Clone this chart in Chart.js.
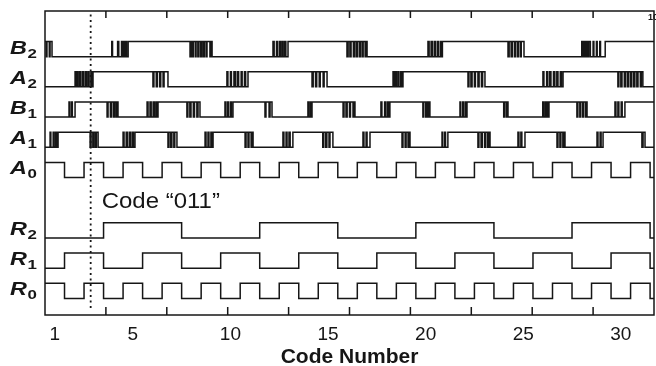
<!DOCTYPE html>
<html lang="en">
<head>
<meta charset="UTF-8">
<title>Code Number</title>
<script src="https://cdn.jsdelivr.net/npm/chart.js@4"></script>
<style>
  html, body { margin: 0; padding: 0; background: #fff; }
</style>
</head>
<body>
<canvas id="timing" width="656" height="366"></canvas>
<script>
// code numbers on the x axis, one entry per code
var codes = [1,2,3,4,5,6,7,8,9,10,11,12,13,14,15,16,17,18,19,20,21,22,23,24,25,26,27,28,29,30,31,32];
var codeTicks = [1, 5, 10, 15, 20, 25, 30];
var codeTickLabels = ['1', '5', '10', '15', '20', '25', '30'];
var markerCode = 2.84;          // dotted line, code "011"
var markerLabel = 'Code \u201C011\u201D';

// clean outputs, level per code
var A0bits = [1,0,1,0,1,0,1,0,1,0,1,0,1,0,1,0,1,0,1,0,1,0,1,0,1,0,1,0,1,0,1,0];
var R0bits = [1,0,1,0,1,0,1,0,1,0,1,0,1,0,1,0,1,0,1,0,1,0,1,0,1,0,1,0,1,0,1,0];
var R1bits = [0,1,1,0,0,1,1,0,0,1,1,0,0,1,1,0,0,1,1,0,0,1,1,0,0,1,1,0,0,1,1,0];
var R2bits = [0,0,0,1,1,1,1,0,0,0,0,1,1,1,1,0,0,0,0,1,1,1,1,0,0,0,0,1,1,1,1,0];

// noisy comparator outputs: starting level and every toggle (in code units)
var B2start = 1;
var B2edges = [0.56,0.60,0.72,0.76,0.86,
  3.92,3.96,4.22,4.28,4.42,4.46,4.50,4.56,4.63,4.68,4.76,
  7.93,7.98,8.05,8.10,8.20,8.24,8.33,8.38,8.47,8.52,8.60,8.66,8.75,8.80,8.95,8.99,9.06,
  12.18,12.24,12.36,12.42,12.52,12.58,12.66,12.70,12.78,12.84,12.95,
  15.97,16.03,16.12,16.18,16.30,16.36,16.45,16.50,16.60,16.66,16.75,16.80,16.90,16.95,17.00,
  20.12,20.18,20.28,20.34,20.44,20.50,20.60,20.66,20.76,20.80,20.86,
  24.22,24.28,24.38,24.44,24.55,24.60,24.70,24.75,24.85,24.90,25.04,
  28.00,28.06,28.12,28.18,28.25,28.30,28.36,28.44,28.58,28.62,28.75,28.79,28.92,28.96,29.20];

var A2start = 0;
var A2edges = [2.04,2.09,2.15,2.20,2.28,2.33,2.42,2.47,2.56,2.62,2.70,2.76,2.85,2.90,2.96,
  6.03,6.08,6.20,6.26,6.38,6.43,6.55,6.60,6.80,
  9.82,9.87,10.00,10.05,10.18,10.25,10.35,10.42,10.55,10.60,10.72,10.78,10.90,
  14.18,14.24,14.36,14.42,14.55,14.60,14.75,14.80,14.95,
  18.33,18.38,18.45,18.50,18.58,18.63,18.72,18.77,18.84,
  22.17,22.22,22.32,22.38,22.50,22.55,22.68,22.74,22.86,22.92,23.04,
  26.01,26.06,26.20,26.26,26.36,26.42,26.55,26.62,26.72,26.78,26.90,26.96,27.04,
  29.85,29.90,30.00,30.06,30.18,30.24,30.34,30.40,30.50,30.56,30.66,30.72,30.82,30.88,31.00,31.05,31.13];

var B1start = 0;
var B1edges = [1.73,1.77,1.86,1.90,2.04,
  3.68,3.73,3.85,3.90,4.00,4.06,4.14,4.18,4.24,
  5.73,5.78,5.88,5.94,6.04,6.10,6.18,6.23,6.29,
  7.77,7.82,7.92,7.98,8.10,8.16,8.28,8.34,8.44,
  9.72,9.77,9.86,9.90,10.00,10.05,10.13,
  11.77,11.82,11.98,12.03,12.13,
  13.97,14.02,14.10,14.14,14.18,
  15.77,15.82,15.92,15.98,16.10,16.15,16.28,16.33,16.38,
  17.71,17.76,17.90,17.96,18.05,18.10,18.17,
  19.86,19.90,20.00,20.05,20.12,20.17,20.22,
  21.76,21.80,21.90,21.95,22.04,22.08,22.12,
  24.00,24.05,24.14,24.18,24.22,
  26.00,26.04,26.12,26.16,26.22,26.27,26.32,
  27.75,27.80,27.90,27.95,28.05,28.10,28.20,28.24,28.27,
  29.70,29.75,29.85,29.90,30.02,30.07,30.21];

var A1start = 0;
var A1edges = [0.76,0.80,0.92,0.97,1.05,1.10,1.17,
  2.81,2.86,2.95,3.00,3.08,3.13,3.22,
  4.50,4.55,4.66,4.72,4.82,4.88,4.97,5.03,5.11,
  6.80,6.85,6.94,7.00,7.10,7.15,7.26,
  8.70,8.75,8.85,8.90,9.00,9.05,9.11,
  10.75,10.80,10.90,10.95,11.06,11.10,11.16,
  12.69,12.74,12.85,12.90,13.00,13.06,13.20,
  14.73,14.78,14.88,14.94,15.05,15.10,15.25,
  16.79,16.84,16.95,17.00,17.15,
  18.79,18.84,18.95,19.00,19.10,19.14,19.20,
  20.84,20.88,20.98,21.02,21.14,
  22.68,22.73,22.84,22.90,23.02,23.08,23.18,23.24,23.30,
  24.73,24.78,24.88,24.93,25.09,
  26.73,26.78,26.88,26.93,27.03,27.08,27.14,
  28.78,28.83,28.94,28.99,29.09,
  31.08,31.14,31.24];

// row names (letter + subscript) and row baseline on the y axis
var rowLetters = ['B', 'A', 'B', 'A', 'A', 'R', 'R', 'R'];
var rowSubs    = ['2', '2', '1', '1', '0', '2', '1', '0'];
var rowBase    = [8, 7, 6, 5, 4, 2, 1, 0];
var labelY = 3.0;   // baseline of the Code "011" note

var X_MIN = 0.5, X_MAX = 31.7;
var HIGH = 0.5;
var INK = '#161616';

function fromBits(bits, base) {
  var pts = bits.map(function (b, i) {
    return { x: codes[i] - 0.5, y: base + b * HIGH };
  });
  pts.push({ x: X_MAX, y: base + bits[bits.length - 1] * HIGH });
  return pts;
}

function fromEdges(start, edges, base) {
  var lvl = start;
  var pts = [{ x: X_MIN, y: base + lvl * HIGH }];
  edges.forEach(function (e) {
    lvl = 1 - lvl;
    pts.push({ x: e, y: base + lvl * HIGH });
  });
  pts.push({ x: X_MAX, y: base + lvl * HIGH });
  return pts;
}

function wave(pts) {
  return {
    data: pts,
    stepped: true,
    borderColor: INK,
    borderWidth: 1.5,
    pointRadius: 0,
    fill: false
  };
}

var datasets = [
  wave(fromEdges(B2start, B2edges, rowBase[0])),
  wave(fromEdges(A2start, A2edges, rowBase[1])),
  wave(fromEdges(B1start, B1edges, rowBase[2])),
  wave(fromEdges(A1start, A1edges, rowBase[3])),
  wave(fromBits(A0bits, rowBase[4])),
  wave(fromBits(R2bits, rowBase[5])),
  wave(fromBits(R1bits, rowBase[6])),
  wave(fromBits(R0bits, rowBase[7])),
  {
    data: [{ x: markerCode, y: -0.32 }, { x: markerCode, y: 9.45 }],
    borderColor: INK,
    borderWidth: 1.8,
    borderDash: [2, 3.5],
    pointRadius: 0,
    fill: false
  }
];

// box, inner ticks, row names and the note
var decorations = {
  id: 'decorations',
  afterDatasetsDraw: function (chart) {
    var ctx = chart.ctx, a = chart.chartArea;
    var xs = chart.scales.x, ys = chart.scales.y, s2 = chart.scales.x2;
    ctx.save();
    ctx.strokeStyle = INK;
    ctx.lineWidth = 1.5;
    ctx.strokeRect(a.left, a.top, a.right - a.left, a.bottom - a.top);
    ctx.beginPath();
    s2.ticks.forEach(function (t) {
      var px = s2.getPixelForValue(t.value);
      if (px <= a.left + 2 || px >= a.right - 2) return;
      ctx.moveTo(px, a.top);
      ctx.lineTo(px, a.top + 7);
      ctx.moveTo(px, a.bottom);
      ctx.lineTo(px, a.bottom - 8);
    });
    ctx.stroke();

    ctx.fillStyle = INK;
    ctx.textBaseline = 'alphabetic';
    ctx.textAlign = 'left';
    rowLetters.forEach(function (L, i) {
      var yc = ys.getPixelForValue(rowBase[i] + HIGH / 2);
      ctx.save();
      ctx.translate(10, yc + 4.5);
      ctx.scale(1.3, 1);
      ctx.font = 'italic bold 18px "Liberation Sans", Arial, sans-serif';
      ctx.fillText(L, 0, 0);
      var w = ctx.measureText(L).width;
      ctx.font = 'bold 13px "Liberation Sans", Arial, sans-serif';
      ctx.fillText(rowSubs[i], w + 0.5, 4);
      ctx.restore();
    });

    ctx.save();
    ctx.translate(xs.getPixelForValue(markerCode) + 11, ys.getPixelForValue(labelY));
    ctx.scale(1.09, 1);
    ctx.font = '22px "Liberation Sans", Arial, sans-serif';
    ctx.fillText(markerLabel, 0, 0);
    ctx.restore();

    ctx.font = 'bold 9px "Liberation Sans", Arial, sans-serif';
    ctx.fillText('10', a.right - 6, a.top + 9);
    ctx.restore();
  }
};

new Chart(document.getElementById('timing'), {
  type: 'line',
  data: { datasets: datasets },
  plugins: [decorations],
  options: {
    responsive: false,
    animation: false,
    layout: { padding: { left: 45, right: 2, top: 11, bottom: 0 } },
    plugins: { legend: { display: false }, tooltip: { enabled: false } },
    scales: {
      x: {
        type: 'linear',
        min: X_MIN,
        max: X_MAX,
        grid: { display: false, drawTicks: false },
        border: { display: false },
        afterBuildTicks: function (s) {
          s.ticks = codeTicks.map(function (v) { return { value: v }; });
        },
        afterFit: function (s) { s.height = 51; },
        ticks: {
          autoSkip: false,
          maxRotation: 0,
          padding: 8,
          color: INK,
          font: { family: '"Liberation Sans", Arial, sans-serif', size: 19 },
          callback: function (v, i) { return codeTickLabels[i]; }
        },
        title: {
          display: true,
          text: 'Code Number',
          color: INK,
          padding: 0,
          font: { family: '"Liberation Sans", Arial, sans-serif', size: 21, weight: 'bold', lineHeight: 0.85 }
        }
      },
      x2: {
        type: 'linear',
        position: 'top',
        display: false,
        min: 0,
        max: 10,
        ticks: { stepSize: 1 }
      },
      y: {
        type: 'linear',
        display: false,
        min: -0.55,
        max: 9.51
      }
    }
  }
});
</script>
</body>
</html>
